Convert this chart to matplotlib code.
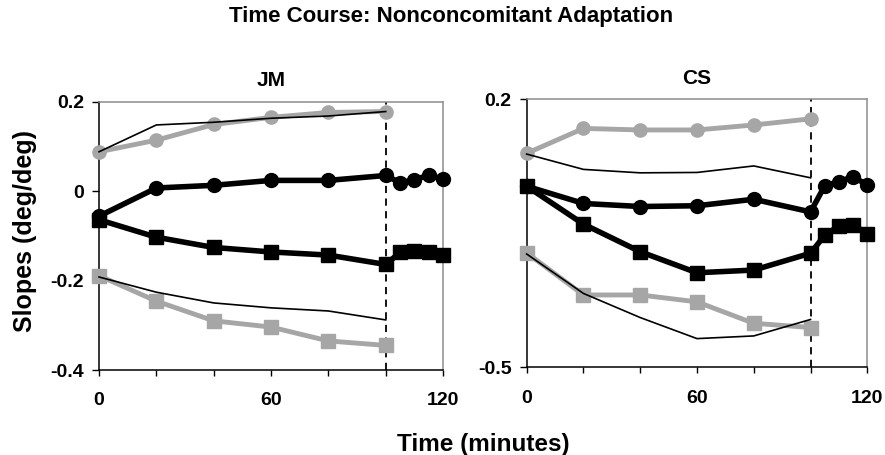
import matplotlib
matplotlib.use("Agg")
import matplotlib.pyplot as plt

plt.rcParams['font.family'] = ['Liberation Sans', 'DejaVu Sans']
plt.rcParams['font.weight'] = 'bold'

# Time points (minutes)
t_adapt = [0, 20, 40, 60, 80, 100]
t_post = [0, 20, 40, 60, 80, 100, 105, 110, 115, 120]

# --- JM ---
jm_gray_circ = [0.088, 0.114, 0.149, 0.165, 0.176, 0.178]
jm_thin_up = [0.088, 0.148, 0.154, 0.163, 0.168, 0.178]
jm_black_circ = [-0.056, 0.007, 0.013, 0.024, 0.024, 0.035, 0.019, 0.025, 0.036, 0.027]
jm_black_sq = [-0.064, -0.103, -0.126, -0.136, -0.143, -0.164, -0.137, -0.134, -0.137, -0.143]
jm_gray_sq = [-0.189, -0.246, -0.290, -0.304, -0.335, -0.345]
jm_thin_lo = [-0.192, -0.226, -0.250, -0.261, -0.268, -0.288]

# --- CS ---
cs_gray_circ = [0.059, 0.124, 0.120, 0.120, 0.133, 0.149]
cs_thin_up = [0.057, 0.017, 0.008, 0.009, 0.026, -0.005]
cs_black_circ = [-0.027, -0.072, -0.080, -0.078, -0.061, -0.094, -0.026, -0.015, -0.002, -0.024]
cs_black_sq = [-0.027, -0.126, -0.198, -0.253, -0.246, -0.202, -0.155, -0.131, -0.127, -0.152]
cs_gray_sq = [-0.201, -0.311, -0.311, -0.329, -0.385, -0.396]
cs_thin_lo = [-0.204, -0.307, -0.370, -0.425, -0.418, -0.375]

panels = [
    dict(name="JM", ylim=(-0.4, 0.2), yticks=[-0.4, -0.2, 0, 0.2],
         yticklabels=["-0.4", "-0.2", "0", "0.2"],
         data=(jm_gray_circ, jm_thin_up, jm_black_circ, jm_black_sq, jm_gray_sq, jm_thin_lo),
         rect=[0.1119, 0.1868, 0.3887, 0.5897]),
    dict(name="CS", ylim=(-0.5, 0.2), yticks=[-0.5, 0.2],
         yticklabels=["-0.5", "0.2"],
         data=(cs_gray_circ, cs_thin_up, cs_black_circ, cs_black_sq, cs_gray_sq, cs_thin_lo),
         rect=[0.5951, 0.1927, 0.3849, 0.5890]),
]

GRAY = "#a6a6a6"

fig = plt.figure(figsize=(8.85, 4.55), dpi=100)

for p in panels:
    ax = fig.add_axes(p["rect"])
    g_c, thin_u, b_c, b_s, g_s, thin_l = p["data"]

    ax.plot(t_adapt, g_c, color=GRAY, lw=3.5, marker="o", ms=9.5, mec=GRAY, mfc=GRAY,
            clip_on=False, zorder=3)
    ax.plot(t_adapt, g_s, color=GRAY, lw=3.5, marker="s", ms=9.5, mec=GRAY, mfc=GRAY,
            clip_on=False, zorder=3)
    ax.plot(t_adapt, thin_u, color="black", lw=1.2, clip_on=False, zorder=4)
    ax.plot(t_adapt, thin_l, color="black", lw=1.2, clip_on=False, zorder=4)
    ax.plot(t_post, b_c, color="black", lw=4, marker="o", ms=10, clip_on=False, zorder=5)
    ax.plot(t_post, b_s, color="black", lw=4, marker="s", ms=10, clip_on=False, zorder=5)

    ax.axvline(100, color="black", lw=1.3, ls=(0, (4, 3)), zorder=2)

    ax.set_xlim(0, 120)
    ax.set_ylim(*p["ylim"])
    ax.set_xticks(range(0, 121, 20))
    ax.set_xticklabels(["0", "", "", "60", "", "", "120"])
    ax.set_yticks(p["yticks"])
    ax.set_yticklabels(p["yticklabels"])
    ax.tick_params(axis="y", direction="out", length=5, width=1, labelsize=14, pad=6)
    ax.tick_params(axis="x", direction="out", length=4, width=1, labelsize=14, pad=12)

    for s in ("left", "bottom"):
        ax.spines[s].set_color("black")
        ax.spines[s].set_linewidth(1.1)
    for s in ("top", "right"):
        ax.spines[s].set_color("#8c8c8c")
        ax.spines[s].set_linewidth(1.1)

    ax.set_title(p["name"], fontsize=15, fontweight="bold", pad=11)

fig.text(0.51, 0.963, "Time Course: Nonconcomitant Adaptation", ha="center", va="center",
         fontsize=16, fontweight="bold")
fig.text(0.546, 0.024, "Time (minutes)", ha="center", va="center",
         fontsize=17.5, fontweight="bold")
fig.text(0.028, 0.492, "Slopes (deg/deg)", ha="center", va="center", rotation=90,
         fontsize=18, fontweight="bold")

fig.savefig("out.png", dpi=100)
